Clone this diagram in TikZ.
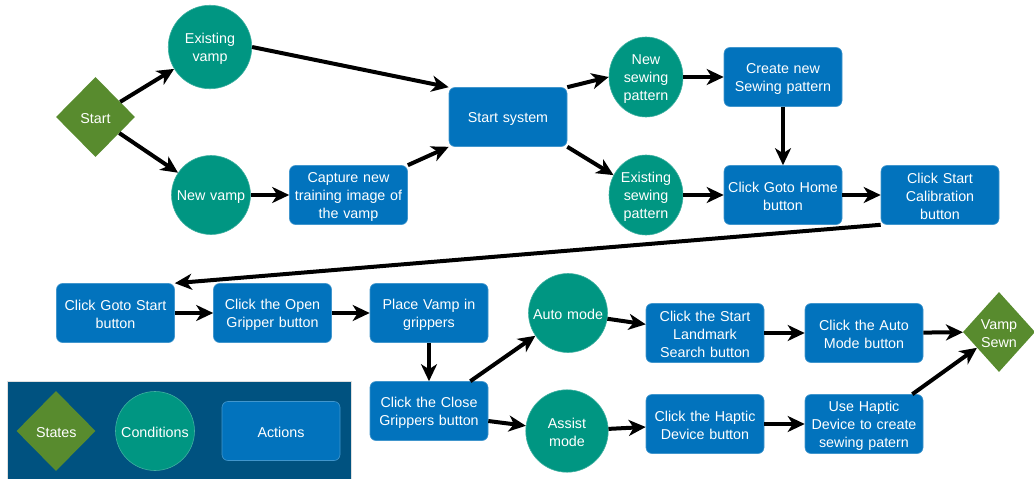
\documentclass[tikz,border=0pt]{standalone}
\usepackage{fontspec}
\setmainfont{Liberation Sans}
\usetikzlibrary{shapes.geometric,arrows.meta,calc}
\definecolor{stgreen}{RGB}{88,139,46}
\definecolor{cdteal}{RGB}{0,150,130}
\definecolor{acblue}{RGB}{2,115,189}
\definecolor{lgbg}{RGB}{0,82,128}
\tikzset{
  base/.style={text=white, font=\fontsize{14.3}{18}\selectfont, align=center, inner sep=0pt, execute at begin node={\rule{0pt}{14pt}}},
  actbox/.style={base, rectangle, rounded corners=6pt, fill=acblue, draw=acblue!75!white, line width=0.6pt, minimum width=118pt, minimum height=59pt, text width=116pt},
  cond/.style={base, circle, fill=cdteal, draw=cdteal!75!white, line width=0.6pt, minimum size=79pt, text width=76pt},
  condel/.style={base, ellipse, fill=cdteal, draw=cdteal!75!white, line width=0.6pt, minimum width=74pt, minimum height=80pt, text width=52pt},
  state/.style={base, diamond, fill=stgreen, minimum width=79pt, minimum height=80pt, text width=40pt},
  flow/.style={line width=4pt, -{Stealth[length=17pt, width=16pt, inset=5pt]}},
}
\begin{document}
\begin{tikzpicture}[x=1pt,y=-1pt]
\useasboundingbox (0,0) rectangle (1034,479);
% legend
\node[fill=lgbg, draw=gray!25, line width=1pt, minimum width=344pt, minimum height=104pt, inner sep=0pt, anchor=north west] (legend) at (7,381) {};
\node[state] (lst) at (56,431) {States};
\node[cond] (lcd) at (155,431) {Conditions};
\node[actbox] (lac) at (281,431) {Actions};
% row 1
\node[state] (start) at (95.5,117) {Start};
\node[cond] (ev) at (210,47) {Existing\\vamp};
\node[cond] (nv) at (211,195) {New vamp};
\node[actbox] (cap) at (348.5,195) {Capture new\\training image of\\the vamp};
\node[actbox] (sys) at (508,117) {Start system};
\node[condel] (nsp) at (646,77) {New\\sewing\\pattern};
\node[condel] (esp) at (646,195) {Existing\\sewing\\pattern};
\node[actbox] (cnp) at (783,77) {Create new\\Sewing pattern};
\node[actbox] (gh) at (783,195) {Click Goto Home\\button};
\node[actbox] (cal) at (940,195) {Click Start\\Calibration\\button};
% row 2
\node[actbox] (gs) at (115.5,313) {Click Goto Start\\button};
\node[actbox] (og) at (272.5,313) {Click the Open\\Gripper button};
\node[actbox] (pv) at (429,313) {Place Vamp in\\grippers};
\node[actbox] (cg) at (429,411) {Click the Close\\Grippers button};
\node[cond] (am) at (568,313) {Auto mode};
\node[cond] (asm) at (567,431) {Assist\\mode};
\node[actbox] (lm) at (705,333) {Click the Start\\Landmark\\Search button};
\node[actbox] (ab) at (864,333) {Click the Auto\\Mode button};
\node[actbox] (hd) at (705,424) {Click the Haptic\\Device button};
\node[actbox] (uh) at (864,424) {Use Haptic\\Device to create\\sewing patern};
\node[state, minimum width=72pt] (vs) at (999,332) {Vamp\\Sewn};
% connectors
\draw[flow] (start) -- (ev);
\draw[flow] (start) -- (nv);
\draw[flow] (ev.east) -- (sys.north west);
\draw[flow] (nv) -- (cap);
\draw[flow] (cap.north east) -- (sys.south west);
\draw[flow] (sys.north east) -- (nsp.west);
\draw[flow] (sys.south east) -- (esp);
\draw[flow] (nsp) -- (cnp);
\draw[flow] (cnp) -- (gh);
\draw[flow] (esp) -- (gh);
\draw[flow] (gh) -- (cal);
\draw[flow] (cal.south west) -- (gs.north east);
\draw[flow] (gs) -- (og);
\draw[flow] (og) -- (pv);
\draw[flow] (pv) -- (cg);
\draw[flow] ($(cg.north east)+(-18,0)$) -- (am);
\draw[flow] ($(cg.east)+(0,10)$) -- (asm);
\draw[flow] (am) -- (lm);
\draw[flow] (asm) -- (hd);
\draw[flow] (lm) -- (ab);
\draw[flow] (hd) -- (uh);
\draw[flow] (ab) -- (vs);
\draw[flow] ($(uh.north east)+(-11,0)$) -- (vs);
\end{tikzpicture}
\end{document}
